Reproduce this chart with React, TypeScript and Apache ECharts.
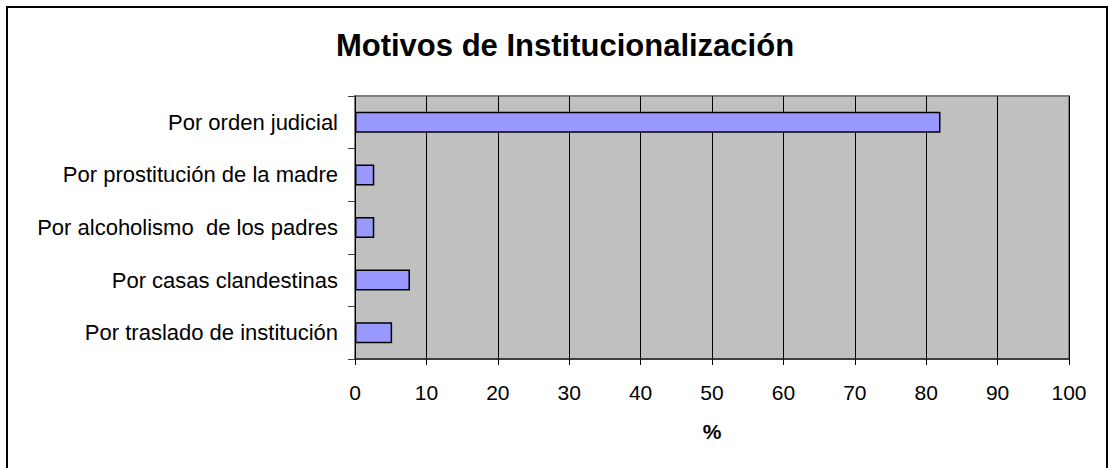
import React, { useEffect, useRef } from "react";
import * as echarts from "echarts";

const categories = [
  "Por orden judicial",
  "Por prostitución de la madre",
  "Por alcoholismo  de los padres",
  "Por casas clandestinas",
  "Por traslado de institución",
];
const values = [82, 2.7, 2.7, 7.7, 5.2];
const titleText = "Motivos de Institucionalización";
const axisName = "%";

export default function App() {
  const ref = useRef<HTMLDivElement>(null);
  useEffect(() => {
    if (!ref.current) return;
    const chart = echarts.init(ref.current, undefined, { renderer: "svg" });
    const font = "'Liberation Sans', Arial, sans-serif";
    chart.setOption({
      animation: false,
      backgroundColor: "#ffffff",
      title: {
        text: titleText,
        left: 560,
        textAlign: "center",
        top: 25,
        textStyle: { fontFamily: font, fontSize: 31, fontWeight: "bold", color: "#000" },
      },
      graphic: [
        {
          type: "rect",
          shape: { x: 7, y: 7, width: 1100, height: 480 },
          style: { fill: "none", stroke: "#000", lineWidth: 2 },
          silent: true,
        },
      ],
      grid: {
        left: 355,
        right: 43,
        top: 96,
        bottom: 109,
        show: true,
        backgroundColor: "#C0C0C0",
        borderColor: "#808080",
        borderWidth: 2,
      },
      xAxis: {
        type: "value",
        min: 0,
        max: 100,
        interval: 10,
        name: axisName,
        nameLocation: "middle",
        nameGap: 62,
        nameTextStyle: { fontFamily: font, fontSize: 21, fontWeight: "bold", color: "#000" },
        axisLine: { show: true, lineStyle: { color: "#404040", width: 2 } },
        axisTick: { show: true, length: 6, lineStyle: { color: "#000" } },
        axisLabel: { fontFamily: font, fontSize: 21, color: "#000", margin: 23 },
        splitLine: { show: true, lineStyle: { color: "#000", width: 1 } },
      },
      yAxis: {
        type: "category",
        data: categories,
        inverse: true,
        axisLine: { show: true, lineStyle: { color: "#000", width: 1 } },
        axisTick: { show: true, length: 7, lineStyle: { color: "#404040" } },
        axisLabel: { fontFamily: font, fontSize: 22, color: "#000", margin: 17 },
        splitLine: { show: false },
      },
      series: [
        {
          type: "bar",
          data: values,
          barWidth: "40%",
          itemStyle: { color: "#9999FF", borderColor: "#000", borderWidth: 1.5 },
        },
      ],
    });
    return () => chart.dispose();
  }, []);
  return (
    <div
      ref={ref}
      style={{ position: "absolute", left: 0, top: 0, width: 1112, height: 468 }}
    />
  );
}
